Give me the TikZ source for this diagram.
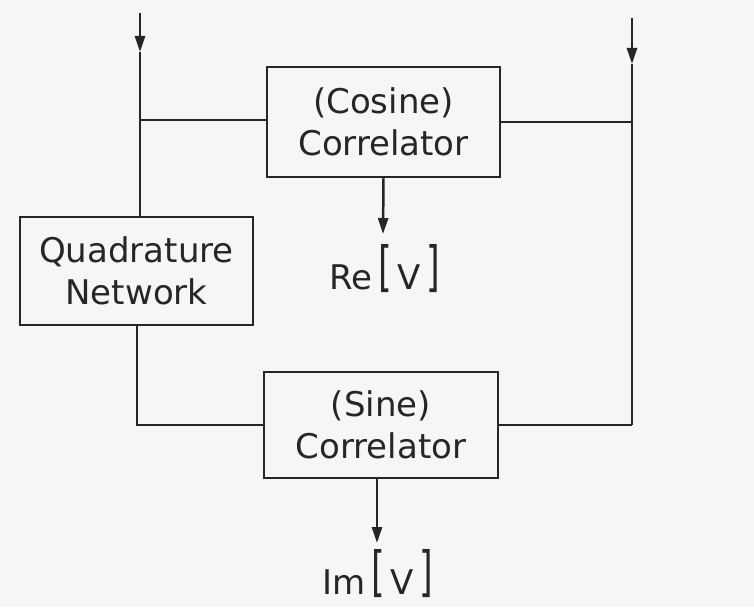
\documentclass[tikz,border=0pt]{standalone}
\usepackage{fontspec}
\usepackage{graphicx}
\setmainfont{DejaVu Sans}
\usetikzlibrary{arrows.meta,positioning}
\definecolor{ink}{HTML}{262626}
\definecolor{paper}{HTML}{F6F6F4}
\tikzset{
  blk/.style={draw=ink, line width=2.5pt, minimum width=233pt, align=center,
    font=\fontsize{34}{42}\selectfont, text=ink, inner sep=0pt},
  wire/.style={draw=ink, line width=2.5pt},
  arr/.style={wire, -{Triangle[length=16pt,width=10pt]}},
  lbl/.style={font=\fontsize{34}{42}\selectfont, text=ink, inner sep=0pt}
}
\newcommand{\bigbr}[1]{\raisebox{4pt}{\scalebox{0.65}[1]{\fontsize{54}{54}\selectfont #1}}}
\begin{document}
\begin{tikzpicture}[x=1pt,y=-1pt]
  \fill[paper] (0,0) rectangle (754,607);
  \useasboundingbox (0,0) rectangle (754,607);

  \node[blk, minimum height=110pt] (cos) at (383.5,122) {(Cosine)\\Correlator};
  \node[blk, minimum height=108pt] (quad) at (136.5,271) {Quadrature\\Network};
  \node[blk, minimum height=106pt, minimum width=234pt] (sin) at (381,425) {(Sine)\\Correlator};

  \node[lbl] (re) at (385,269) {Re\,\bigbr{[}\,V\,\bigbr{]}};
  \node[lbl] (im) at (378,574) {Im\,\bigbr{[}\,V\,\bigbr{]}};

  % left input
  \coordinate (inL) at (140,13);
  \coordinate (aL) at (140,52);
  \coordinate (jL) at (140,120);
  \draw[arr] (inL) -- (aL);
  \draw[wire] (aL) -- (jL) -- (quad.north -| jL);
  \draw[wire] (jL) -- (cos.west |- jL);

  % right input
  \coordinate (inR) at (632,18);
  \coordinate (aR) at (632,64);
  \coordinate (jR) at (632,122);
  \coordinate (cR) at (632,425);
  \draw[arr] (inR) -- (aR);
  \draw[wire] (aR) -- (jR) -- (cR);
  \draw[wire] (cos.east |- jR) -- (jR);
  \draw[wire] (sin.east |- cR) -- (cR);

  % quadrature to sine
  \coordinate (qB) at (137,425);
  \draw[wire] (quad.south -| qB) -- (qB) -- (sin.west |- qB);

  % outputs
  \coordinate (reT) at (383,234);
  \coordinate (imT) at (377,543);
  \draw[arr] (cos.south) -- (reT);
  \draw[arr] (sin.south -| imT) -- (imT);
\end{tikzpicture}
\end{document}
